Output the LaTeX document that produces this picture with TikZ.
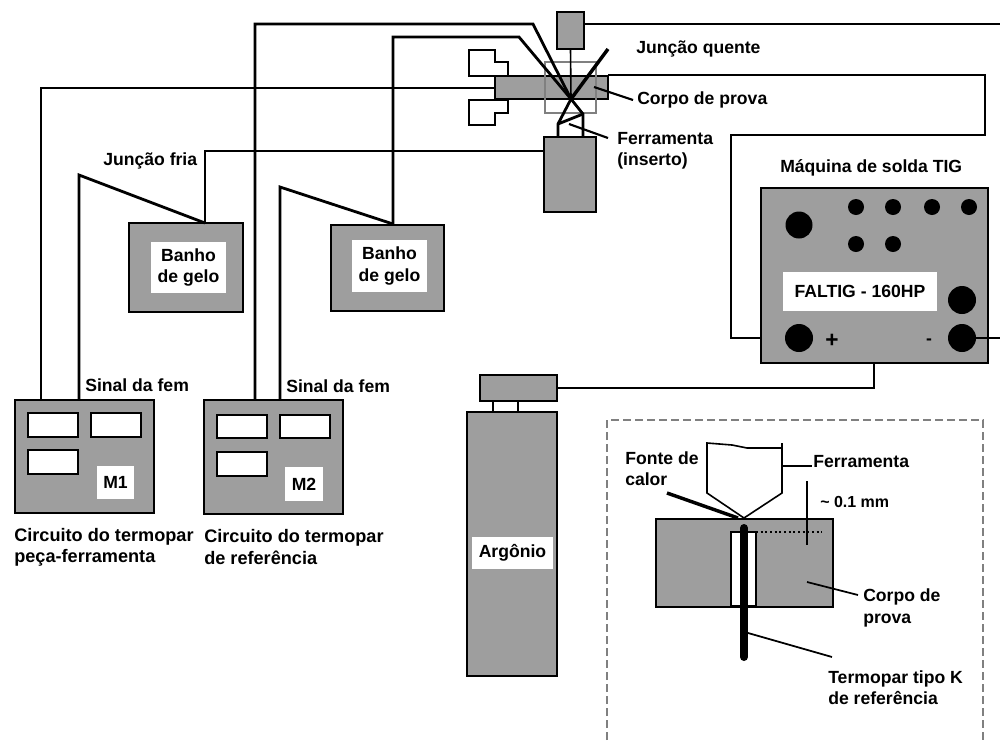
\documentclass[tikz,border=0pt]{standalone}
\usepackage{fontspec}
\setmainfont{Liberation Sans}
\definecolor{dith}{gray}{0.62}
\newcommand\bx[7][]{\node[#7,inner sep=0pt,outer sep=0pt,minimum width={(#4-#2)*0.75pt},minimum height={(#5-#3)*0.75pt},#1] (#6) at ({(#2+#4)/2},{(#3+#5)/2}) {};}
\tikzset{
 txt/.style={font=\bfseries\fontsize{13.2}{16}\selectfont,inner sep=0pt,align=left},
 wtxt/.style={font=\bfseries\fontsize{13.6}{16}\selectfont,inner sep=0pt,align=left},
 gbox/.style={draw=black,line width=2.2pt,fill=dith},
 wbox/.style={draw=black,line width=2.2pt,fill=white},
 patch/.style={fill=white},
 wire/.style={draw=black,line width=2.1pt,line join=miter},
 thin wire/.style={draw=black,line width=1.2pt},
 knob/.style={circle,fill=black,inner sep=0pt},
}
\begin{document}
\begin{tikzpicture}[x=0.75pt,y=-0.75pt]
\useasboundingbox (0,0) rectangle (1000,740);
% meters
\bx{15}{400}{154}{513}{m1}{gbox}
\bx{28}{413}{78}{437}{m1a}{wbox}
\bx{91}{413}{141}{437}{m1b}{wbox}
\bx{28}{450}{78}{474}{m1c}{wbox}
\node[patch,inner sep=0pt,minimum width=27.75pt,minimum height=24.75pt,font=\bfseries\fontsize{13.2}{16}\selectfont] (m1l) at (115.5,482.5) {M1};
\bx{204}{400}{343}{514}{m2}{gbox}
\bx{217}{415}{267}{438}{m2a}{wbox}
\bx{280}{415}{330}{438}{m2b}{wbox}
\bx{217}{452}{267}{476}{m2c}{wbox}
\node[patch,inner sep=0pt,minimum width=28.5pt,minimum height=25.5pt,font=\bfseries\fontsize{13.2}{16}\selectfont] (m2l) at (304,484) {M2};
% ice baths
\node[gbox,inner sep=0pt,outer sep=0pt,minimum width=85.5pt,minimum height=66.75pt] (b1) at (186,267.5) {};
\node[patch,txt,align=center,inner sep=0pt,minimum width=56.25pt,minimum height=38.25pt] (b1l) at (188.5,267.5) {Banho\\de gelo};
\node[gbox,inner sep=0pt,outer sep=0pt,minimum width=84.75pt,minimum height=64.5pt] (b2) at (387.5,268) {};
\node[patch,txt,align=center,inner sep=0pt,minimum width=56.25pt,minimum height=39pt] (b2l) at (389.5,266) {Banho\\de gelo};
% test rig
\bx{544}{137}{596}{212}{holder}{gbox}
\bx{557}{12}{584}{49}{top}{gbox}
\bx{495}{76}{608}{99}{spec}{gbox}
\draw[wire,fill=white] (469,50) -- (495,50) -- (495,62) -- (508,62) -- (508,76) -- (469,76) -- cycle;
\draw[wire,fill=white] (469,100) -- (508,100) -- (508,113) -- (495,113) -- (495,125) -- (469,125) -- cycle;
\draw[gray,line width=1pt] (545,62) rectangle (596,113);
\coordinate (hot) at (571,99);
\coordinate (t1) at (558,124);
\coordinate (t2) at (583,114);
\coordinate (m1up) at (41,400);
\coordinate (m1up2) at (79,400);
\coordinate (m2up) at (255,400);
\coordinate (m2up2) at (280,400);
\coordinate (b1t) at (205,223);
\coordinate (b2t) at (393,224);
\draw[wire] (m1up) -- (41,88) -- (495,88);
\draw[wire] (m1up2) -- (79,175) -- (b1t);
\draw[wire] (b1t) -- (205,151) -- (544,151);
\draw[wire] (m2up2) -- (280,187) -- (b2t);
\draw[wire] (b2t) -- (393,37) -- (519,37) -- (hot);
\draw[wire] (m2up) -- (255,24) -- (533,24) -- (hot);
\draw[wire,line width=1.2pt] (top.south) -- (hot);
\draw[wire] (top.east |- 0,24) -- (1000,24);
\draw[wire,line width=2.6pt] (hot) -- (608,49);
\draw[wire] (558,137) -- (t1) -- (hot);
\draw[wire] (583,137) -- (t2) -- (hot);
\draw[wire] (t1) -- (t2);
\draw[wire,line width=1.6pt] (594,87) -- (633,100);
\draw[wire,line width=1.6pt] (569,124) -- (608,138);
\draw[wire] (608,75) -- (985,75) -- (985,135) -- (731,135) -- (731,338) -- (785,338);
% welding machine
\bx{761}{188}{988}{363}{tig}{gbox}
\node[knob,minimum size=20.25pt] (k1) at (799,225) {};
\foreach \n/\a/\b in {a/856/207,b/893/207,c/932/207,d/969/207,e/856/244,f/893/244}
  \node[knob,minimum size=12pt] (s\n) at (\a,\b) {};
\node[patch,inner sep=0pt,minimum width=115.5pt,minimum height=29.25pt,font=\bfseries\fontsize{13.2}{16}\selectfont] (tigl) at (860,291.5) {FALTIG - 160HP};
\node[knob,minimum size=21pt] (k2) at (962,300) {};
\node[knob,minimum size=21pt] (kp) at (799,338) {};
\node[knob,minimum size=21pt] (km) at (962,338) {};
\node[txt,font=\bfseries\fontsize{17}{18}\selectfont] (plus) at (832,341) {+};
\node[txt] (minus) at (929,342) {-};
\draw[wire] (km) -- (1000,338);
% argon
\bx{480}{375}{557}{401}{reg}{gbox}
\bx{493}{401}{518}{412}{neck}{wbox}
\bx{467}{412}{557}{676}{cyl}{gbox}
\node[patch,txt,inner sep=0pt,minimum width=60.75pt,minimum height=24pt] (argl) at (512.5,553) {Argônio};
\coordinate (tigb) at (874,363);
\draw[wire] (tigb) -- (874,388) -- (reg.east |- 0,388);
% inset
\draw[gray,line width=1pt,dash pattern=on 6pt off 3pt] (607,740) -- (607,420) -- (983,420) -- (983,740);
\draw[thin wire,fill=white] (707,443) -- (732,445) -- (747,448) -- (782,448) -- (782,443) -- (782,493) -- (744,518) -- (707,493) -- cycle;
\bx{656}{519}{833}{607}{ispec}{thin wire,fill=dith}
\bx{731}{532}{756}{606}{slot}{fill=white,draw=black,line width=1pt}
\coordinate (tc1) at (744,528);
\coordinate (tc2) at (744,657);
\draw[black,line width=6pt,line cap=round] (tc1) -- (tc2);
\draw[black,line width=1.5pt,dotted] (756,532) -- (822,532);
\draw[thin wire] (807,481) -- (807,545);
\draw[black,line width=2.6pt] (667,493) -- (738,518);
\draw[thin wire] (783,466) -- (812,466);
\draw[thin wire,line width=1.3pt] (807,582) -- (858,595);
\draw[thin wire,line width=1.3pt] (748,633) -- (832,657);
% labels
\node[txt,anchor=base west] (l1) at (103,165) {Junção fria};
\node[txt,anchor=base west] (l2) at (85,391) {Sinal da fem};
\node[txt,anchor=base west] (l3) at (286,392) {Sinal da fem};
\node[wtxt,anchor=west] (l4) at (14,547) {Circuito do termopar\\peça-ferramenta};
\node[wtxt,anchor=west] (l5) at (204,547) {Circuito do termopar\\de referência};
\node[txt,anchor=base west] (l6) at (636,53) {Junção quente};
\node[txt,anchor=base west] (l7) at (637,104) {Corpo de prova};
\node[txt,anchor=west] (l8) at (617,151) {Ferramenta\\(inserto)};
\node[txt,anchor=base west] (l9) at (780,172) {Máquina de solda TIG};
\node[txt,anchor=west] (l10) at (625,469) {Fonte de\\calor};
\node[txt,anchor=base west] (l11) at (813,467) {Ferramenta};
\node[txt,anchor=base west,font=\bfseries\fontsize{12}{15}\selectfont] (l12) at (820,507) {\textasciitilde\ 0.1 mm};
\node[txt,anchor=west] (l13) at (863,608) {Corpo de\\prova};
\node[txt,anchor=west] (l14) at (828,688) {Termopar tipo K\\de referência};
\end{tikzpicture}
\end{document}
